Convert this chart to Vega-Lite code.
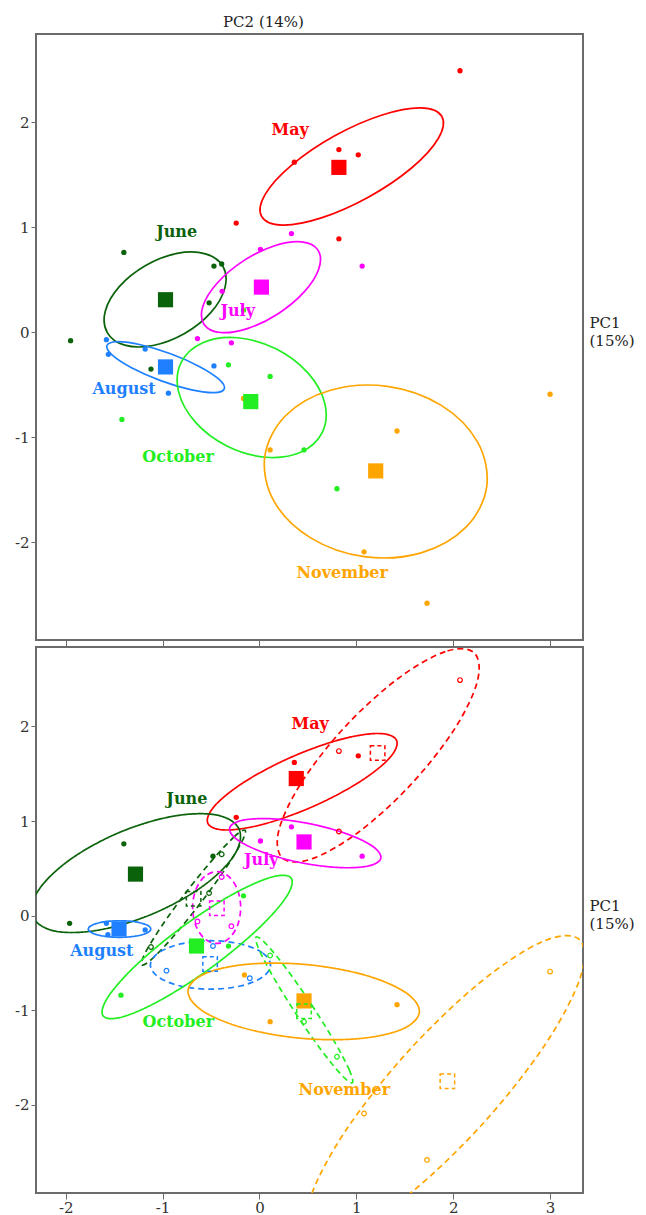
{
"$schema":"https://vega.github.io/schema/vega-lite/v6.json",
"padding":{"left":13,"top":13,"right":0,"bottom":0},
"config":{"view":{"stroke":"#6b6b6b","strokeWidth":2},"axis":{"gridColor":"#e6e6e6","tickColor":"#6b6b6b","labelColor":"#333333","labelFont":"DejaVu Serif","labelFontSize":15,"domain":false}},
"datasets":{
"ellA":[
{"m":"May","i":0,"x":1.883,"y":2.055},{"m":"May","i":1,"x":1.671,"y":2.137},{"m":"May","i":2,"x":1.266,"y":2.069},{"m":"May","i":3,"x":0.777,"y":1.871},{"m":"May","i":4,"x":0.335,"y":1.594},{"m":"May","i":5,"x":0.059,"y":1.313},{"m":"May","i":6,"x":0.022,"y":1.104},{"m":"May","i":7,"x":0.234,"y":1.021},{"m":"May","i":8,"x":0.639,"y":1.089},{"m":"May","i":9,"x":1.128,"y":1.288},{"m":"May","i":10,"x":1.57,"y":1.564},{"m":"May","i":11,"x":1.846,"y":1.845},
{"m":"June","i":0,"x":-0.377,"y":0.628},{"m":"June","i":1,"x":-0.558,"y":0.747},{"m":"June","i":2,"x":-0.85,"y":0.751},{"m":"June","i":3,"x":-1.175,"y":0.636},{"m":"June","i":4,"x":-1.447,"y":0.435},{"m":"June","i":5,"x":-1.592,"y":0.201},{"m":"June","i":6,"x":-1.571,"y":-0.003},{"m":"June","i":7,"x":-1.391,"y":-0.123},{"m":"June","i":8,"x":-1.099,"y":-0.126},{"m":"June","i":9,"x":-0.773,"y":-0.012},{"m":"June","i":10,"x":-0.501,"y":0.189},{"m":"June","i":11,"x":-0.357,"y":0.423},
{"m":"July","i":0,"x":0.604,"y":0.782},{"m":"July","i":1,"x":0.436,"y":0.861},{"m":"July","i":2,"x":0.156,"y":0.824},{"m":"July","i":3,"x":-0.162,"y":0.682},{"m":"July","i":4,"x":-0.433,"y":0.472},{"m":"July","i":5,"x":-0.583,"y":0.251},{"m":"July","i":6,"x":-0.573,"y":0.077},{"m":"July","i":7,"x":-0.405,"y":-0.002},{"m":"July","i":8,"x":-0.125,"y":0.035},{"m":"July","i":9,"x":0.193,"y":0.177},{"m":"July","i":10,"x":0.464,"y":0.387},{"m":"July","i":11,"x":0.614,"y":0.608},
{"m":"August","i":0,"x":-0.363,"y":-0.539},{"m":"August","i":1,"x":-0.419,"y":-0.447},{"m":"August","i":2,"x":-0.622,"y":-0.325},{"m":"August","i":3,"x":-0.918,"y":-0.205},{"m":"August","i":4,"x":-1.228,"y":-0.119},{"m":"August","i":5,"x":-1.468,"y":-0.09},{"m":"August","i":6,"x":-1.575,"y":-0.126},{"m":"August","i":7,"x":-1.519,"y":-0.218},{"m":"August","i":8,"x":-1.316,"y":-0.34},{"m":"August","i":9,"x":-1.02,"y":-0.46},{"m":"August","i":10,"x":-0.711,"y":-0.546},{"m":"August","i":11,"x":-0.47,"y":-0.575},
{"m":"October","i":0,"x":0.647,"y":-0.956},{"m":"October","i":1,"x":0.675,"y":-0.679},{"m":"October","i":2,"x":0.5,"y":-0.387},{"m":"October","i":3,"x":0.17,"y":-0.157},{"m":"October","i":4,"x":-0.227,"y":-0.052},{"m":"October","i":5,"x":-0.585,"y":-0.1},{"m":"October","i":6,"x":-0.808,"y":-0.287},{"m":"October","i":7,"x":-0.836,"y":-0.563},{"m":"October","i":8,"x":-0.662,"y":-0.855},{"m":"October","i":9,"x":-0.331,"y":-1.085},{"m":"October","i":10,"x":0.066,"y":-1.19},{"m":"October","i":11,"x":0.424,"y":-1.143},
{"m":"November","i":0,"x":2.346,"y":-1.47},{"m":"November","i":1,"x":2.252,"y":-1.046},{"m":"November","i":2,"x":1.877,"y":-0.696},{"m":"November","i":3,"x":1.321,"y":-0.515},{"m":"November","i":4,"x":0.732,"y":-0.552},{"m":"November","i":5,"x":0.269,"y":-0.795},{"m":"November","i":6,"x":0.055,"y":-1.181},{"m":"November","i":7,"x":0.148,"y":-1.606},{"m":"November","i":8,"x":0.524,"y":-1.955},{"m":"November","i":9,"x":1.08,"y":-2.136},{"m":"November","i":10,"x":1.669,"y":-2.1},{"m":"November","i":11,"x":2.132,"y":-1.856}
],
"ellB":[
{"m":"May","s":"solid","i":0,"x":1.415,"y":1.854},{"m":"May","s":"solid","i":1,"x":1.228,"y":1.926},{"m":"May","s":"solid","i":2,"x":0.831,"y":1.861},{"m":"May","s":"solid","i":3,"x":0.329,"y":1.676},{"m":"May","s":"solid","i":4,"x":-0.143,"y":1.422},{"m":"May","s":"solid","i":5,"x":-0.458,"y":1.166},{"m":"May","s":"solid","i":6,"x":-0.533,"y":0.977},{"m":"May","s":"solid","i":7,"x":-0.346,"y":0.906},{"m":"May","s":"solid","i":8,"x":0.052,"y":0.971},{"m":"May","s":"solid","i":9,"x":0.554,"y":1.155},{"m":"May","s":"solid","i":10,"x":1.025,"y":1.409},{"m":"May","s":"solid","i":11,"x":1.341,"y":1.665},
{"m":"May","s":"dashed","i":0,"x":2.216,"y":2.779},{"m":"May","s":"dashed","i":1,"x":1.918,"y":2.791},{"m":"May","s":"dashed","i":2,"x":1.435,"y":2.51},{"m":"May","s":"dashed","i":3,"x":0.895,"y":2.01},{"m":"May","s":"dashed","i":4,"x":0.445,"y":1.426},{"m":"May","s":"dashed","i":5,"x":0.203,"y":0.914},{"m":"May","s":"dashed","i":6,"x":0.236,"y":0.611},{"m":"May","s":"dashed","i":7,"x":0.534,"y":0.599},{"m":"May","s":"dashed","i":8,"x":1.018,"y":0.88},{"m":"May","s":"dashed","i":9,"x":1.557,"y":1.38},{"m":"May","s":"dashed","i":10,"x":2.008,"y":1.964},{"m":"May","s":"dashed","i":11,"x":2.249,"y":2.476},
{"m":"June","s":"solid","i":0,"x":-0.209,"y":0.912},{"m":"June","s":"solid","i":1,"x":-0.44,"y":1.064},{"m":"June","s":"solid","i":2,"x":-0.895,"y":1.051},{"m":"June","s":"solid","i":3,"x":-1.451,"y":0.878},{"m":"June","s":"solid","i":4,"x":-1.96,"y":0.59},{"m":"June","s":"solid","i":5,"x":-2.285,"y":0.264},{"m":"June","s":"solid","i":6,"x":-2.339,"y":-0.011},{"m":"June","s":"solid","i":7,"x":-2.107,"y":-0.163},{"m":"June","s":"solid","i":8,"x":-1.653,"y":-0.15},{"m":"June","s":"solid","i":9,"x":-1.096,"y":0.023},{"m":"June","s":"solid","i":10,"x":-0.587,"y":0.311},{"m":"June","s":"solid","i":11,"x":-0.263,"y":0.637},
{"m":"June","s":"dashed","i":0,"x":-0.148,"y":0.904},{"m":"June","s":"dashed","i":1,"x":-0.257,"y":0.838},{"m":"June","s":"dashed","i":2,"x":-0.479,"y":0.598},{"m":"June","s":"dashed","i":3,"x":-0.756,"y":0.25},{"m":"June","s":"dashed","i":4,"x":-1.013,"y":-0.114},{"m":"June","s":"dashed","i":5,"x":-1.181,"y":-0.396},{"m":"June","s":"dashed","i":6,"x":-1.215,"y":-0.52},{"m":"June","s":"dashed","i":7,"x":-1.107,"y":-0.454},{"m":"June","s":"dashed","i":8,"x":-0.885,"y":-0.214},{"m":"June","s":"dashed","i":9,"x":-0.608,"y":0.134},{"m":"June","s":"dashed","i":10,"x":-0.351,"y":0.498},{"m":"June","s":"dashed","i":11,"x":-0.183,"y":0.78},
{"m":"July","s":"solid","i":0,"x":1.253,"y":0.609},{"m":"July","s":"solid","i":1,"x":1.168,"y":0.734},{"m":"July","s":"solid","i":2,"x":0.897,"y":0.867},{"m":"July","s":"solid","i":3,"x":0.512,"y":0.974},{"m":"July","s":"solid","i":4,"x":0.117,"y":1.025},{"m":"July","s":"solid","i":5,"x":-0.184,"y":1.007},{"m":"July","s":"solid","i":6,"x":-0.308,"y":0.925},{"m":"July","s":"solid","i":7,"x":-0.224,"y":0.8},{"m":"July","s":"solid","i":8,"x":0.047,"y":0.667},{"m":"July","s":"solid","i":9,"x":0.432,"y":0.56},{"m":"July","s":"solid","i":10,"x":0.828,"y":0.509},{"m":"July","s":"solid","i":11,"x":1.128,"y":0.527},
{"m":"July","s":"dashed","i":0,"x":-0.442,"y":0.466},{"m":"July","s":"dashed","i":1,"x":-0.566,"y":0.415},{"m":"July","s":"dashed","i":2,"x":-0.657,"y":0.276},{"m":"July","s":"dashed","i":3,"x":-0.69,"y":0.087},{"m":"July","s":"dashed","i":4,"x":-0.657,"y":-0.103},{"m":"July","s":"dashed","i":5,"x":-0.566,"y":-0.242},{"m":"July","s":"dashed","i":6,"x":-0.442,"y":-0.293},{"m":"July","s":"dashed","i":7,"x":-0.318,"y":-0.242},{"m":"July","s":"dashed","i":8,"x":-0.227,"y":-0.103},{"m":"July","s":"dashed","i":9,"x":-0.194,"y":0.087},{"m":"July","s":"dashed","i":10,"x":-0.227,"y":0.276},{"m":"July","s":"dashed","i":11,"x":-0.318,"y":0.415},
{"m":"August","s":"solid","i":0,"x":-1.122,"y":-0.14},{"m":"August","s":"solid","i":1,"x":-1.165,"y":-0.097},{"m":"August","s":"solid","i":2,"x":-1.283,"y":-0.064},{"m":"August","s":"solid","i":3,"x":-1.444,"y":-0.053},{"m":"August","s":"solid","i":4,"x":-1.605,"y":-0.064},{"m":"August","s":"solid","i":5,"x":-1.723,"y":-0.097},{"m":"August","s":"solid","i":6,"x":-1.767,"y":-0.14},{"m":"August","s":"solid","i":7,"x":-1.723,"y":-0.184},{"m":"August","s":"solid","i":8,"x":-1.605,"y":-0.216},{"m":"August","s":"solid","i":9,"x":-1.444,"y":-0.228},{"m":"August","s":"solid","i":10,"x":-1.283,"y":-0.216},{"m":"August","s":"solid","i":11,"x":-1.165,"y":-0.184},
{"m":"August","s":"dashed","i":0,"x":0.114,"y":-0.52},{"m":"August","s":"dashed","i":1,"x":0.031,"y":-0.392},{"m":"August","s":"dashed","i":2,"x":-0.196,"y":-0.298},{"m":"August","s":"dashed","i":3,"x":-0.506,"y":-0.264},{"m":"August","s":"dashed","i":4,"x":-0.816,"y":-0.298},{"m":"August","s":"dashed","i":5,"x":-1.043,"y":-0.392},{"m":"August","s":"dashed","i":6,"x":-1.126,"y":-0.52},{"m":"August","s":"dashed","i":7,"x":-1.043,"y":-0.648},{"m":"August","s":"dashed","i":8,"x":-0.816,"y":-0.742},{"m":"August","s":"dashed","i":9,"x":-0.506,"y":-0.776},{"m":"August","s":"dashed","i":10,"x":-0.196,"y":-0.742},{"m":"August","s":"dashed","i":11,"x":0.031,"y":-0.648},
{"m":"October","s":"solid","i":0,"x":0.327,"y":0.398},{"m":"October","s":"solid","i":1,"x":0.121,"y":0.407},{"m":"October","s":"solid","i":2,"x":-0.291,"y":0.218},{"m":"October","s":"solid","i":3,"x":-0.797,"y":-0.118},{"m":"October","s":"solid","i":4,"x":-1.261,"y":-0.51},{"m":"October","s":"solid","i":5,"x":-1.561,"y":-0.855},{"m":"October","s":"solid","i":6,"x":-1.614,"y":-1.058},{"m":"October","s":"solid","i":7,"x":-1.408,"y":-1.067},{"m":"October","s":"solid","i":8,"x":-0.997,"y":-0.878},{"m":"October","s":"solid","i":9,"x":-0.491,"y":-0.543},{"m":"October","s":"solid","i":10,"x":-0.026,"y":-0.15},{"m":"October","s":"solid","i":11,"x":0.274,"y":0.194},
{"m":"October","s":"dashed","i":0,"x":0.958,"y":-1.765},{"m":"October","s":"dashed","i":1,"x":0.93,"y":-1.636},{"m":"October","s":"dashed","i":2,"x":0.777,"y":-1.335},{"m":"October","s":"dashed","i":3,"x":0.54,"y":-0.943},{"m":"October","s":"dashed","i":4,"x":0.281,"y":-0.564},{"m":"October","s":"dashed","i":5,"x":0.071,"y":-0.301},{"m":"October","s":"dashed","i":6,"x":-0.034,"y":-0.224},{"m":"October","s":"dashed","i":7,"x":-0.006,"y":-0.354},{"m":"October","s":"dashed","i":8,"x":0.147,"y":-0.655},{"m":"October","s":"dashed","i":9,"x":0.384,"y":-1.047},{"m":"October","s":"dashed","i":10,"x":0.642,"y":-1.425},{"m":"October","s":"dashed","i":11,"x":0.852,"y":-1.688},
{"m":"November","s":"solid","i":0,"x":1.65,"y":-1.02},{"m":"November","s":"solid","i":1,"x":1.508,"y":-0.811},{"m":"November","s":"solid","i":2,"x":1.084,"y":-0.626},{"m":"November","s":"solid","i":3,"x":0.493,"y":-0.517},{"m":"November","s":"solid","i":4,"x":-0.109,"y":-0.511},{"m":"November","s":"solid","i":5,"x":-0.559,"y":-0.611},{"m":"November","s":"solid","i":6,"x":-0.737,"y":-0.79},{"m":"November","s":"solid","i":7,"x":-0.595,"y":-1.0},{"m":"November","s":"solid","i":8,"x":-0.171,"y":-1.184},{"m":"November","s":"solid","i":9,"x":0.421,"y":-1.294},{"m":"November","s":"solid","i":10,"x":1.022,"y":-1.299},{"m":"November","s":"solid","i":11,"x":1.472,"y":-1.199},
{"m":"November","s":"dashed","i":0,"x":3.301,"y":-0.25},{"m":"November","s":"dashed","i":1,"x":2.916,"y":-0.276},{"m":"November","s":"dashed","i":2,"x":2.264,"y":-0.716},{"m":"November","s":"dashed","i":3,"x":1.52,"y":-1.45},{"m":"November","s":"dashed","i":4,"x":0.882,"y":-2.283},{"m":"November","s":"dashed","i":5,"x":0.522,"y":-2.991},{"m":"November","s":"dashed","i":6,"x":0.536,"y":-3.385},{"m":"November","s":"dashed","i":7,"x":0.921,"y":-3.359},{"m":"November","s":"dashed","i":8,"x":1.573,"y":-2.919},{"m":"November","s":"dashed","i":9,"x":2.317,"y":-2.185},{"m":"November","s":"dashed","i":10,"x":2.955,"y":-1.352},{"m":"November","s":"dashed","i":11,"x":3.315,"y":-0.644}
],
"ptA":[
{"m":"May","x":0.36,"y":1.62},{"m":"May","x":0.82,"y":1.74},{"m":"May","x":1.02,"y":1.69},{"m":"May","x":0.82,"y":0.89},{"m":"May","x":2.07,"y":2.49},{"m":"May","x":-0.24,"y":1.04},
{"m":"June","x":-1.4,"y":0.76},{"m":"June","x":-0.47,"y":0.63},{"m":"June","x":-0.39,"y":0.65},{"m":"June","x":-0.52,"y":0.28},{"m":"June","x":-1.95,"y":-0.08},{"m":"June","x":-1.12,"y":-0.35},
{"m":"July","x":0.33,"y":0.94},{"m":"July","x":0.01,"y":0.79},{"m":"July","x":-0.385,"y":0.39},{"m":"July","x":-0.64,"y":-0.06},{"m":"July","x":-0.29,"y":-0.1},{"m":"July","x":1.06,"y":0.63},
{"m":"August","x":-1.58,"y":-0.07},{"m":"August","x":-1.56,"y":-0.21},{"m":"August","x":-1.18,"y":-0.16},{"m":"August","x":-0.47,"y":-0.32},{"m":"August","x":-0.94,"y":-0.58},{"m":"August","x":-0.1,"y":-0.66},
{"m":"October","x":-0.32,"y":-0.31},{"m":"October","x":0.11,"y":-0.42},{"m":"October","x":-1.42,"y":-0.83},{"m":"October","x":0.46,"y":-1.12},{"m":"October","x":0.8,"y":-1.49},{"m":"October","x":-0.165,"y":0.21},
{"m":"November","x":3.0,"y":-0.59},{"m":"November","x":1.42,"y":-0.94},{"m":"November","x":0.11,"y":-1.12},{"m":"November","x":1.08,"y":-2.09},{"m":"November","x":1.73,"y":-2.58},{"m":"November","x":-0.165,"y":-0.63}
],
"ptB":[
{"m":"May","s":"solid","x":0.36,"y":1.62},{"m":"May","s":"solid","x":-0.24,"y":1.04},{"m":"May","s":"solid","x":1.02,"y":1.69},
{"m":"June","s":"solid","x":-1.4,"y":0.76},{"m":"June","s":"solid","x":-1.96,"y":-0.08},{"m":"June","s":"solid","x":-0.48,"y":0.63},
{"m":"July","s":"solid","x":0.33,"y":0.94},{"m":"July","s":"solid","x":0.01,"y":0.79},{"m":"July","s":"solid","x":1.06,"y":0.63},
{"m":"August","s":"solid","x":-1.58,"y":-0.08},{"m":"August","s":"solid","x":-1.565,"y":-0.2},{"m":"August","s":"solid","x":-1.18,"y":-0.15},
{"m":"October","s":"solid","x":-0.165,"y":0.21},{"m":"October","s":"solid","x":-0.32,"y":-0.32},{"m":"October","s":"solid","x":-1.43,"y":-0.84},
{"m":"November","s":"solid","x":-0.155,"y":-0.625},{"m":"November","s":"solid","x":1.42,"y":-0.94},{"m":"November","s":"solid","x":0.11,"y":-1.12},
{"m":"May","s":"dashed","x":2.07,"y":2.49},{"m":"May","s":"dashed","x":0.82,"y":1.74},{"m":"May","s":"dashed","x":0.82,"y":0.89},
{"m":"June","s":"dashed","x":-0.39,"y":0.65},{"m":"June","s":"dashed","x":-0.52,"y":0.24},{"m":"June","s":"dashed","x":-1.12,"y":-0.33},
{"m":"July","s":"dashed","x":-0.39,"y":0.41},{"m":"July","s":"dashed","x":-0.64,"y":-0.06},{"m":"July","s":"dashed","x":-0.29,"y":-0.11},
{"m":"August","s":"dashed","x":-0.48,"y":-0.32},{"m":"August","s":"dashed","x":-0.96,"y":-0.58},{"m":"August","s":"dashed","x":-0.1,"y":-0.66},
{"m":"October","s":"dashed","x":0.11,"y":-0.42},{"m":"October","s":"dashed","x":0.46,"y":-1.12},{"m":"October","s":"dashed","x":0.8,"y":-1.49},
{"m":"November","s":"dashed","x":3.0,"y":-0.59},{"m":"November","s":"dashed","x":1.08,"y":-2.09},{"m":"November","s":"dashed","x":1.73,"y":-2.58}
],
"mnA":[
{"m":"May","x":0.82,"y":1.57},{"m":"June","x":-0.97,"y":0.31},{"m":"July","x":0.02,"y":0.43},{"m":"August","x":-0.97,"y":-0.33},{"m":"October","x":-0.09,"y":-0.66},{"m":"November","x":1.2,"y":-1.32}
],
"mnB":[
{"m":"May","s":"solid","x":0.38,"y":1.45},{"m":"June","s":"solid","x":-1.28,"y":0.44},{"m":"July","s":"solid","x":0.46,"y":0.78},{"m":"August","s":"solid","x":-1.45,"y":-0.14},{"m":"October","s":"solid","x":-0.65,"y":-0.32},{"m":"November","s":"solid","x":0.46,"y":-0.9},
{"m":"May","s":"dashed","x":1.22,"y":1.72},{"m":"June","s":"dashed","x":-0.68,"y":0.18},{"m":"July","s":"dashed","x":-0.44,"y":0.08},{"m":"August","s":"dashed","x":-0.51,"y":-0.51},{"m":"October","s":"dashed","x":0.46,"y":-1.01},{"m":"November","s":"dashed","x":1.94,"y":-1.75}
],
"lbA":[
{"m":"May","x":0.317,"y":1.927},{"m":"June","x":-0.855,"y":0.958},{"m":"July","x":-0.225,"y":0.203},{"m":"August","x":-1.398,"y":-0.54},{"m":"October","x":-0.84,"y":-1.187},{"m":"November","x":0.854,"y":-2.29}
],
"lbB":[
{"m":"May","x":0.524,"y":2.03},{"m":"June","x":-0.75,"y":1.238},{"m":"July","x":0.018,"y":0.588},{"m":"August","x":-1.628,"y":-0.369},{"m":"October","x":-0.838,"y":-1.121},{"m":"November","x":0.876,"y":-1.84}
]
},
"vconcat":[
{
"width":547,"height":606,
"resolve":{"axis":{"x":"independent","y":"independent"}},
"layer":[
{"mark":{"type":"rule","strokeDash":[5,4],"color":"#555555","strokeWidth":1.3},
 "encoding":{"x":{"datum":0,"type":"quantitative","scale":{"domain":[-2.307,3.34],"nice":false,"zero":false},
  "axis":{"orient":"top","title":"PC2 (14%)","labels":false,"ticks":false,"grid":false,"titleFont":"DejaVu Serif","titleFontSize":15,"titleFontWeight":"normal","titleColor":"#222222","titleX":227,"titleY":-8,"titleAlign":"center","titleBaseline":"alphabetic","titleAngle":0}}}},
{"mark":{"type":"rule","strokeDash":[5,4],"color":"#555555","strokeWidth":1.3},
 "encoding":{"y":{"datum":0,"type":"quantitative","scale":{"domain":[-2.93,2.84],"nice":false,"zero":false},
  "axis":{"orient":"right","title":["PC1","(15%)"],"labels":false,"ticks":false,"grid":false,"titleFont":"DejaVu Serif","titleFontSize":15,"titleFontWeight":"normal","titleColor":"#222222","titleX":6,"titleY":293,"titleAlign":"left","titleBaseline":"alphabetic","titleAngle":0,"titleLineHeight":18}}}},
{"data":{"name":"ellA"},"mark":{"type":"line","interpolate":"cardinal-closed","strokeWidth":1.7,"clip":true},
 "encoding":{
  "x":{"field":"x","type":"quantitative","axis":{"orient":"bottom","values":[-2,-1,0,1,2,3],"labels":false,"tickSize":6,"title":null}},
  "y":{"field":"y","type":"quantitative","axis":{"orient":"left","values":[-2,-1,0,1,2],"tickSize":5,"labelPadding":2,"title":null,"labelExpr":"datum.value < 0 ? '-' + abs(datum.value) : '' + datum.value"}},
  "color":{"field":"m","type":"nominal","scale":{"domain":["May","June","July","August","October","November"],"range":["#ff0000","#0a620a","#ff00ff","#1e80ff","#22ee22","#ffa500"]},"legend":null},
  "detail":{"field":"m"},
  "order":{"field":"i","type":"quantitative"}}},
{"data":{"name":"ptA"},"mark":{"type":"circle","size":28,"opacity":1},
 "encoding":{"x":{"field":"x","type":"quantitative","axis":null},"y":{"field":"y","type":"quantitative","axis":null},"color":{"field":"m","type":"nominal","legend":null}}},
{"data":{"name":"mnA"},"mark":{"type":"square","size":230,"opacity":1},
 "encoding":{"x":{"field":"x","type":"quantitative","axis":null},"y":{"field":"y","type":"quantitative","axis":null},"color":{"field":"m","type":"nominal","legend":null}}},
{"data":{"name":"lbA"},"mark":{"type":"text","font":"DejaVu Serif","fontWeight":"bold","fontSize":16,"align":"center","baseline":"middle"},
 "encoding":{"x":{"field":"x","type":"quantitative","axis":null},"y":{"field":"y","type":"quantitative","axis":null},"text":{"field":"m"},"color":{"field":"m","type":"nominal","legend":null}}},
{"mark":{"type":"text","text":"(A)","font":"Liberation Sans","fontWeight":"bold","fontSize":25,"align":"left","baseline":"alphabetic","color":"#000000"},
 "encoding":{"x":{"datum":-2.214,"type":"quantitative","axis":null},"y":{"datum":2.497,"type":"quantitative","axis":null}}}
]
},
{
"width":547,"height":546,
"resolve":{"axis":{"x":"independent","y":"independent"}},
"layer":[
{"mark":{"type":"rule","strokeDash":[5,4],"color":"#555555","strokeWidth":1.3},
 "encoding":{"x":{"datum":0,"type":"quantitative","scale":{"domain":[-2.307,3.34],"nice":false,"zero":false},"axis":null}}},
{"mark":{"type":"rule","strokeDash":[5,4],"color":"#555555","strokeWidth":1.3},
 "encoding":{"y":{"datum":0,"type":"quantitative","scale":{"domain":[-2.93,2.84],"nice":false,"zero":false},
  "axis":{"orient":"right","title":["PC1","(15%)"],"labels":false,"ticks":false,"grid":false,"titleFont":"DejaVu Serif","titleFontSize":15,"titleFontWeight":"normal","titleColor":"#222222","titleX":6,"titleY":263,"titleAlign":"left","titleBaseline":"alphabetic","titleAngle":0,"titleLineHeight":18}}}},
{"data":{"name":"ellB"},"mark":{"type":"line","interpolate":"cardinal-closed","strokeWidth":1.7,"clip":true},
 "encoding":{
  "x":{"field":"x","type":"quantitative","axis":{"orient":"bottom","values":[-2,-1,0,1,2,3],"tickSize":6,"labelPadding":1,"title":null,"labelExpr":"datum.value < 0 ? '-' + abs(datum.value) : '' + datum.value"}},
  "y":{"field":"y","type":"quantitative","axis":{"orient":"left","values":[-2,-1,0,1,2],"tickSize":5,"labelPadding":2,"title":null,"labelExpr":"datum.value < 0 ? '-' + abs(datum.value) : '' + datum.value"}},
  "color":{"field":"m","type":"nominal","scale":{"domain":["May","June","July","August","October","November"],"range":["#ff0000","#0a620a","#ff00ff","#1e80ff","#22ee22","#ffa500"]},"legend":null},
  "strokeDash":{"field":"s","type":"nominal","scale":{"domain":["solid","dashed"],"range":[[1,0],[6,4]]},"legend":null},
  "detail":{"field":"m"},
  "order":{"field":"i","type":"quantitative"}}},
{"data":{"name":"ptB"},"transform":[{"filter":"datum.s === 'solid'"}],"mark":{"type":"circle","size":28,"opacity":1},
 "encoding":{"x":{"field":"x","type":"quantitative","axis":null},"y":{"field":"y","type":"quantitative","axis":null},"color":{"field":"m","type":"nominal","legend":null}}},
{"data":{"name":"ptB"},"transform":[{"filter":"datum.s === 'dashed'"}],"mark":{"type":"point","shape":"circle","filled":false,"size":22,"strokeWidth":1.2,"opacity":1},
 "encoding":{"x":{"field":"x","type":"quantitative","axis":null},"y":{"field":"y","type":"quantitative","axis":null},"color":{"field":"m","type":"nominal","legend":null}}},
{"data":{"name":"mnB"},"transform":[{"filter":"datum.s === 'solid'"}],"mark":{"type":"square","size":230,"opacity":1},
 "encoding":{"x":{"field":"x","type":"quantitative","axis":null},"y":{"field":"y","type":"quantitative","axis":null},"color":{"field":"m","type":"nominal","legend":null}}},
{"data":{"name":"mnB"},"transform":[{"filter":"datum.s === 'dashed'"}],"mark":{"type":"point","shape":"square","filled":false,"size":210,"strokeWidth":1.5,"strokeDash":[4,3],"opacity":1},
 "encoding":{"x":{"field":"x","type":"quantitative","axis":null},"y":{"field":"y","type":"quantitative","axis":null},"color":{"field":"m","type":"nominal","legend":null}}},
{"data":{"name":"lbB"},"mark":{"type":"text","font":"DejaVu Serif","fontWeight":"bold","fontSize":16,"align":"center","baseline":"middle"},
 "encoding":{"x":{"field":"x","type":"quantitative","axis":null},"y":{"field":"y","type":"quantitative","axis":null},"text":{"field":"m"},"color":{"field":"m","type":"nominal","legend":null}}},
{"mark":{"type":"text","text":"(B)","font":"Liberation Sans","fontWeight":"bold","fontSize":25,"align":"left","baseline":"alphabetic","color":"#000000"},
 "encoding":{"x":{"datum":-2.214,"type":"quantitative","axis":null},"y":{"datum":2.46,"type":"quantitative","axis":null}}}
]
}
],
"spacing":7,
"bounds":"flush"
}
